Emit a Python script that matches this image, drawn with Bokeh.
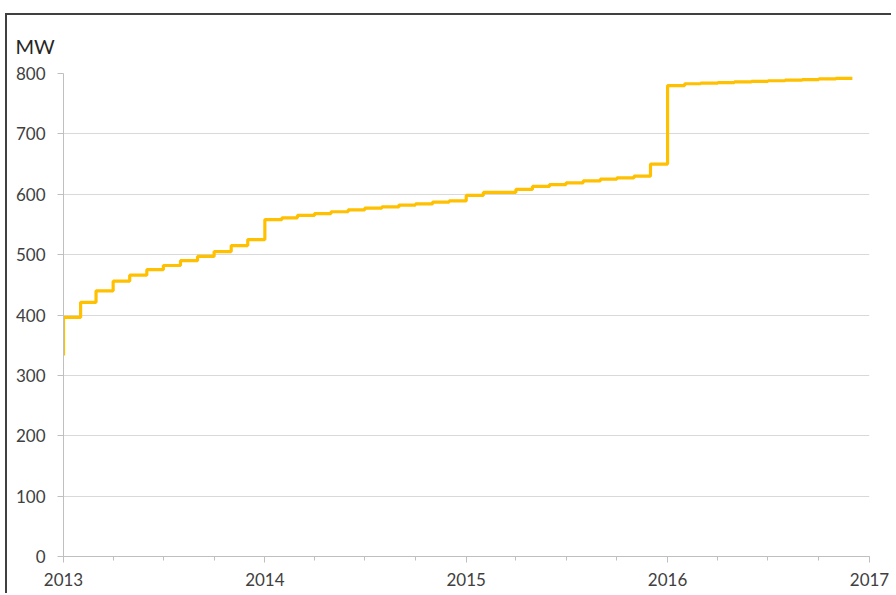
from datetime import datetime
import pandas as pd
from bokeh.plotting import figure
from bokeh.models import Range1d, FixedTicker, DatetimeTickFormatter, Title
from bokeh.embed import file_html
from bokeh.resources import INLINE

# ---- data: installed capacity (MW), sampled at month starts (step "before") ----
month_starts = pd.date_range("2013-01-01", "2016-12-01", freq="MS")
capacity_2013 = [333, 396, 421, 440, 456, 466, 475, 482, 490, 497, 505, 515]
capacity_2014 = [525, 558, 561, 565, 568, 571, 574, 577, 579, 582, 584, 587]
capacity_2015 = [589, 598, 603, 603, 608, 613, 616, 619, 622, 625, 627, 630]
capacity_2016 = [650, 780, 783, 784, 785, 786, 787, 788, 789, 790, 791, 792]
capacity_mw = capacity_2013 + capacity_2014 + capacity_2015 + capacity_2016

year_ticks = [2013, 2014, 2015, 2016, 2017]
y_ticks = [0, 100, 200, 300, 400, 500, 600, 700, 800]
unit_label = "MW"

FONT = "Lato"
TXT = "#404040"

def ms(d):
    return pd.Timestamp(d).value / 1e6

p = figure(width=886, height=580, x_axis_type="datetime",
           output_backend="svg", toolbar_location=None,
           x_range=Range1d(datetime(year_ticks[0], 1, 1), datetime(year_ticks[-1], 1, 1)),
           y_range=Range1d(y_ticks[0], y_ticks[-1]),
           min_border_left=56, min_border_right=24,
           min_border_top=58, min_border_bottom=39)
p.styles = {"margin-left": "5px", "border-left": "2px solid #404040",
            "margin-top": "13px", "border-top": "2px solid #404040"}
p.outline_line_color = None
p.background_fill_color = "white"
p.border_fill_color = "white"

p.step(list(month_starts), capacity_mw, mode="before",
       line_color="#FFC000", line_width=3.2)

# x axis
major = [ms(datetime(y, 1, 1)) for y in year_ticks]
minor = [ms(d) for d in pd.date_range("2013-01-01", "2017-01-01", freq="QS")]
p.xaxis.ticker = FixedTicker(ticks=major, minor_ticks=minor)
fmt = "%Y"
p.xaxis.formatter = DatetimeTickFormatter(years=fmt, months=fmt, days=fmt, hours=fmt,
                                          hourmin=fmt, minutes=fmt, minsec=fmt,
                                          seconds=fmt, milliseconds=fmt, microseconds=fmt)
p.yaxis.ticker = FixedTicker(ticks=y_ticks, minor_ticks=[])

for ax in (p.xaxis, p.yaxis):
    ax.axis_line_color = "#bfbfbf"
    ax.major_tick_line_color = "#bfbfbf"
    ax.minor_tick_line_color = "#bfbfbf"
    ax.major_tick_in = 0
    ax.minor_tick_in = 0
    ax.major_tick_out = 6
    ax.minor_tick_out = 4
    ax.major_label_text_font = FONT
    ax.major_label_text_font_size = "17px"
    ax.major_label_text_color = TXT
    ax.major_label_standoff = 10
p.yaxis.major_label_standoff = 12

p.xgrid.visible = False
p.ygrid.grid_line_color = "#d9d9d9"
p.ygrid.grid_line_width = 1

p.add_layout(Title(text=unit_label, align="left", offset=-48, standoff=32,
                   text_font=FONT, text_font_size="20px",
                   text_font_style="normal", text_color="#262626"), "above")

open("out.html", "w").write(file_html(p, INLINE))
